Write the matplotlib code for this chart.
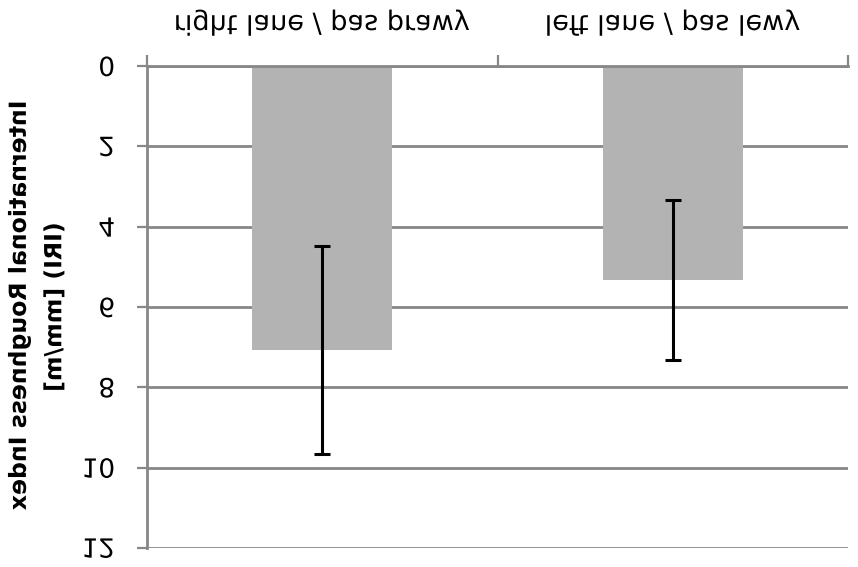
import numpy as np
import matplotlib
matplotlib.use("Agg")
import matplotlib.pyplot as plt
from matplotlib.patheffects import AbstractPathEffect
from matplotlib.transforms import Affine2D

categories = ["right lane / pas prawy", "left lane / pas lewy"]
means = [7.07, 5.33]
errors = [2.6, 2.0]
yticks = [0, 2, 4, 6, 8, 10, 12]


class FlipV(AbstractPathEffect):
    # draws the text mirrored top-to-bottom about its own centre
    def draw_path(self, renderer, gc, tpath, affine, rgbFace=None):
        ext = tpath.get_extents(affine)
        cy = (ext.y0 + ext.y1) / 2
        flip = Affine2D().translate(0, -cy).scale(1, -1).translate(0, cy)
        renderer.draw_path(gc, tpath, affine + flip, rgbFace)


plt.rcParams['font.family'] = ['DejaVu Sans']

fig = plt.figure(figsize=(8.58, 5.67), dpi=100)
ax = fig.add_axes([147 / 858, 1 - 548 / 567, (848 - 147) / 858, (548 - 66) / 567])

x = np.arange(len(categories))
ax.bar(x, means, width=0.4, color='#b3b3b3', zorder=2)
ax.errorbar(x, means, yerr=errors, fmt='none', ecolor='black',
            elinewidth=2.2, capsize=6, capthick=2.2, zorder=3)

ax.set_xlim(-0.5, 1.5)
ax.set_ylim(12, 0)
ax.set_yticks(yticks)
ax.set_yticklabels([str(v) for v in yticks], fontsize=19)
ax.yaxis.grid(True, color='#878787', linewidth=2, zorder=0)
ax.set_axisbelow(True)

ax.xaxis.tick_top()
ax.set_xticks(x)
ax.set_xticklabels(categories, fontsize=19.5)
ax.set_xticks([-0.5, 0.5, 1.5], minor=True)
ax.tick_params(axis='x', which='major', length=0, pad=21.5)
ax.tick_params(axis='x', which='minor', length=8, width=1.6, color='#878787', top=True)
ax.tick_params(axis='y', length=7, width=1.6, color='#878787', pad=16)

for s in ['right', 'bottom']:
    ax.spines[s].set_visible(False)
for s in ['left', 'top']:
    ax.spines[s].set_color('#878787')
    ax.spines[s].set_linewidth(2)

ax.set_ylabel("International Roughness Index\n(IRI) [mm/m]", fontsize=17,
              fontweight='bold', labelpad=11, linespacing=1.6)
ax.yaxis.label.set_path_effects([FlipV()])
for t in ax.get_xticklabels() + ax.get_yticklabels():
    t.set_path_effects([FlipV()])

fig.savefig("out.png", dpi=100)
